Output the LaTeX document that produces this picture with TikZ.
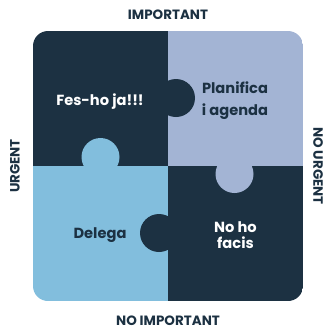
\documentclass[tikz,border=0pt]{standalone}
\usepackage{fontspec}
\setmainfont{Poppins}
\usetikzlibrary{positioning}
\definecolor{navy}{HTML}{1C3142}
\definecolor{lavender}{HTML}{A3B4D4}
\definecolor{skyblue}{HTML}{82BEDD}
\definecolor{offwhite}{HTML}{FFFFFF}

\tikzset{
  axislabel/.style={font=\fontsize{11.5}{13}\selectfont\bfseries, text=navy},
  piecelabel/.style={font=\fontsize{12.5}{15}\selectfont\bfseries, align=center},
}

\begin{document}
\begin{tikzpicture}[x=0.03cm,y=-0.03cm]
\useasboundingbox (0,0) rectangle (326,331);
\fill[offwhite] (0,0) rectangle (326,331);

% four puzzle pieces, knobs drawn as circles over the joints
\begin{scope}
\clip[rounded corners=0.45cm] (33,31) rectangle (303,301);
\fill[navy] (33,31) rectangle (168,166);
\fill[lavender] (168,31) rectangle (303,166);
\fill[skyblue] (33,166) rectangle (168,301);
\fill[navy] (168,166) rectangle (303,301);
\fill[navy] (176,98) circle (19);
\fill[skyblue] (100.5,157) circle (19);
\fill[lavender] (234.5,174) circle (19);
\fill[navy] (159,233) circle (19);
\end{scope}

\node[piecelabel, text=white] (doit) at (100,102) {Fes-ho ja!!!};
\node[piecelabel, text=navy] (plan) at (235,101) {Planifica\\[3.8pt]i agenda};
\node[piecelabel, text=navy] (delegate) at (100,235) {Delega};
\node[piecelabel, text=white] (drop) at (235.5,235) {No ho\\[-0.8pt]facis};

\node[axislabel] (imp) at (168,15) {IMPORTANT};
\node[axislabel] (noimp) at (168,321) {NO IMPORTANT};
\node[axislabel, rotate=90] (urg) at (15,166) {URGENT};
\node[axislabel, rotate=-90] (nourg) at (318,166) {NO URGENT};
\end{tikzpicture}
\end{document}
